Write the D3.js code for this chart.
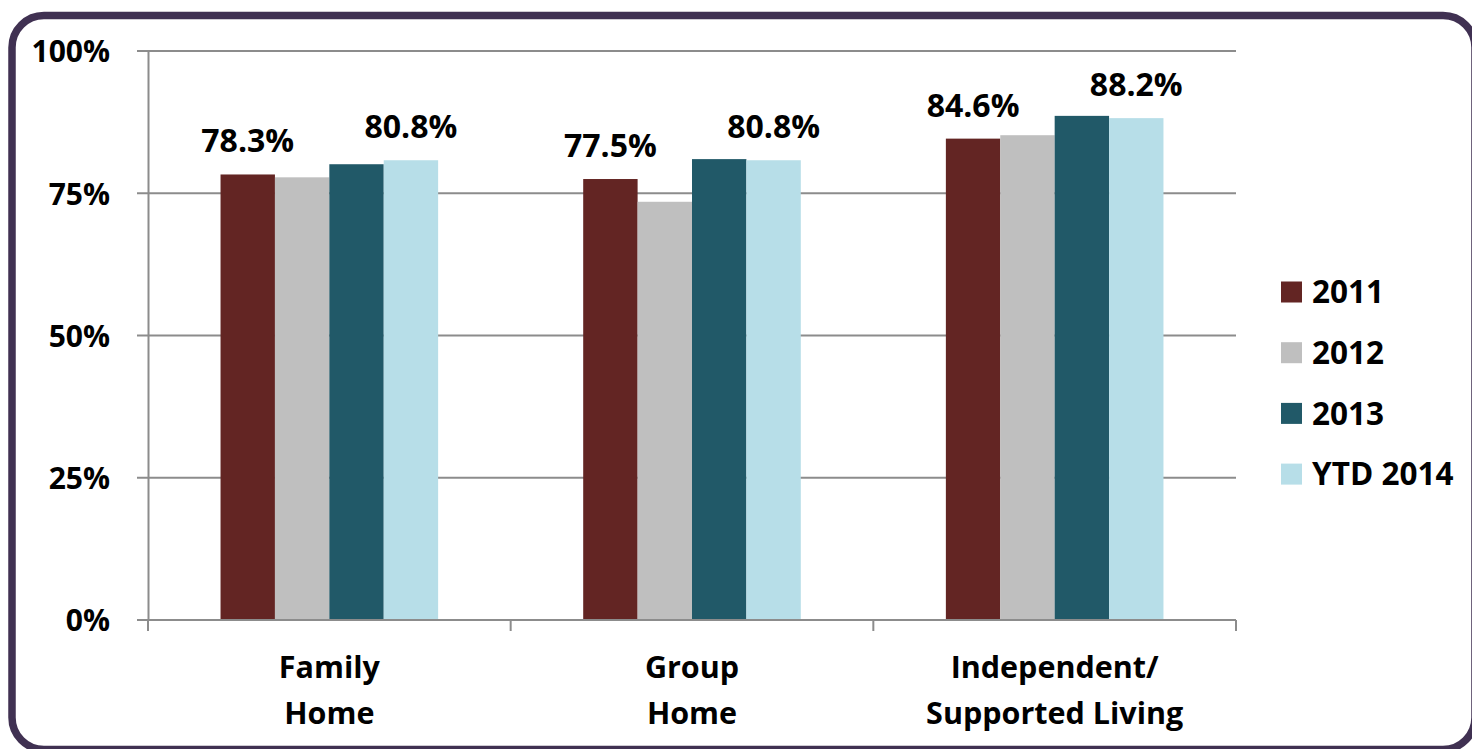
<!DOCTYPE html>
<html>
<head>
<meta charset="utf-8">
<script src="https://cdn.jsdelivr.net/npm/d3@7/dist/d3.min.js"></script>
<style>
  html, body { margin: 0; padding: 0; background: #ffffff; }
  svg { display: block; }
  text { font-family: "Open Sans", "Noto Sans", sans-serif; font-weight: 700; fill: #000; }
</style>
</head>
<body>
<svg id="chart" width="1472" height="749"></svg>
<script>
// Residential setting outcomes by year
const categories = [["Family", "Home"], ["Group", "Home"], ["Independent/", "Supported Living"]];
const seriesNames = ["2011", "2012", "2013", "YTD 2014"];
const seriesColors = ["#632523", "#BFBFBF", "#215968", "#B7DEE8"];
const values2011 = [78.3, 77.5, 84.6];
const values2012 = [77.8, 73.5, 85.2];
const values2013 = [80.1, 81.0, 88.6];
const valuesYTD2014 = [80.8, 80.8, 88.2];
const labelledSeries = [0, 3]; // series that carry value labels
const yTicks = [0, 25, 50, 75, 100];

const seriesValues = [values2011, values2012, values2013, valuesYTD2014];

const svg = d3.select("#chart");

// Rounded frame
svg.append("rect")
  .attr("x", 12).attr("y", 15.5)
  .attr("width", 1463).attr("height", 734)
  .attr("rx", 32).attr("ry", 32)
  .attr("fill", "#fff")
  .attr("stroke", "#403152")
  .attr("stroke-width", 7.5);

const plot = { left: 148, right: 1236, top: 51, bottom: 620 };

const catKeys = categories.map((c, i) => i);
const x0 = d3.scaleBand()
  .domain(catKeys)
  .range([plot.left, plot.right])
  .paddingInner(0.4)
  .paddingOuter(0.2);

const x1 = d3.scaleBand()
  .domain(seriesNames.map((s, i) => i))
  .range([0, x0.bandwidth()]);

const y = d3.scaleLinear().domain([0, 100]).range([plot.bottom, plot.top]);

const gridColor = "#8c8c8c";

// Horizontal gridlines with left tick marks
svg.append("g")
  .selectAll("line")
  .data(yTicks)
  .join("line")
  .attr("x1", plot.left - 11).attr("x2", plot.right)
  .attr("y1", d => y(d)).attr("y2", d => y(d))
  .attr("stroke", gridColor).attr("stroke-width", 2);

// Y axis with labels
const yAxis = d3.axisLeft(y)
  .tickValues(yTicks)
  .tickFormat(d => d + "%")
  .tickSize(0)
  .tickPadding(38);

const yg = svg.append("g")
  .attr("transform", `translate(${plot.left},0)`)
  .call(yAxis);
yg.select(".domain").attr("stroke", gridColor).attr("stroke-width", 2);
yg.selectAll("text")
  .attr("font-size", 30)
  .attr("dy", "0.36em")
  .style("font-family", '"Open Sans", sans-serif')
  .style("font-weight", 700)
  .attr("fill", "#000");

// Bars
const groups = svg.append("g")
  .selectAll("g")
  .data(catKeys)
  .join("g")
  .attr("transform", d => `translate(${x0(d)},0)`);

groups.selectAll("rect")
  .data(ci => seriesValues.map((vals, si) => ({ si, v: vals[ci] })))
  .join("rect")
  .attr("x", d => x1(d.si))
  .attr("width", x1.bandwidth())
  .attr("y", d => y(d.v))
  .attr("height", d => y(0) - y(d.v))
  .attr("fill", d => seriesColors[d.si]);

// Value labels
groups.selectAll("text.value")
  .data(ci => labelledSeries.map(si => ({ si, v: seriesValues[si][ci] })))
  .join("text")
  .attr("class", "value")
  .attr("x", d => x1(d.si) + x1.bandwidth() / 2)
  .attr("y", d => y(d.v) - 22)
  .attr("text-anchor", "middle")
  .attr("font-size", 32)
  .text(d => d.v.toFixed(1) + "%");

// X axis baseline and category dividers
const xg = svg.append("g");
xg.append("line")
  .attr("x1", plot.left).attr("x2", plot.right)
  .attr("y1", y(0)).attr("y2", y(0))
  .attr("stroke", gridColor).attr("stroke-width", 2);
const dividers = [plot.left].concat(catKeys.map(k => x0(k) + x0.bandwidth() + x0.step() * x0.paddingInner() / 2));
dividers[dividers.length - 1] = plot.right;
xg.selectAll("line.tick")
  .data(dividers)
  .join("line")
  .attr("class", "tick")
  .attr("x1", d => d).attr("x2", d => d)
  .attr("y1", y(0)).attr("y2", y(0) + 11)
  .attr("stroke", gridColor).attr("stroke-width", 2);

// Category labels (two lines each)
const catLabels = svg.append("g")
  .selectAll("text")
  .data(catKeys)
  .join("text")
  .attr("x", d => x0(d) + x0.bandwidth() / 2)
  .attr("y", 678)
  .attr("text-anchor", "middle")
  .attr("font-size", 30.5);
catLabels.selectAll("tspan")
  .data(d => categories[d].map((line, li) => ({ line, li, d })))
  .join("tspan")
  .attr("x", t => x0(t.d) + x0.bandwidth() / 2)
  .attr("dy", t => t.li === 0 ? 0 : 46)
  .text(t => t.line);

// Legend
const legend = svg.append("g").attr("transform", "translate(1281,292)");
const items = legend.selectAll("g")
  .data(seriesNames)
  .join("g")
  .attr("transform", (d, i) => `translate(0,${i * 60.7})`);
items.append("rect")
  .attr("x", 0).attr("y", -10.5)
  .attr("width", 21).attr("height", 21)
  .attr("fill", (d, i) => seriesColors[i]);
items.append("text")
  .attr("x", 31).attr("y", 0)
  .attr("dy", "0.36em")
  .attr("font-size", 31.5)
  .text(d => d);
</script>
</body>
</html>
